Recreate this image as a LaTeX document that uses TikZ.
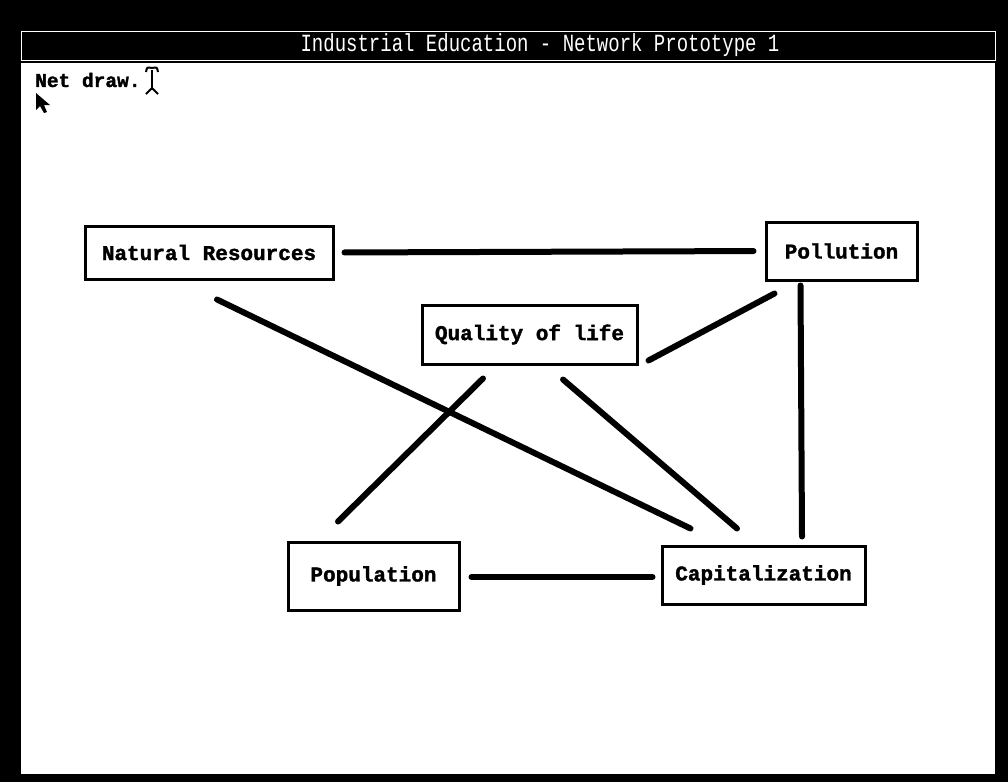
\documentclass[tikz,border=0pt]{standalone}
\usepackage{fontspec}
\newfontfamily\monofont{Liberation Mono}
\newfontfamily\heavyfont[FakeBold=1.6]{Liberation Mono Bold}
\usetikzlibrary{calc}
\begin{document}
\begin{tikzpicture}[x=1pt,y=-1pt,
 box/.style={draw=black,line width=3pt,fill=white,inner sep=0pt,font=\heavyfont\fontsize{21}{21}\selectfont},
 conn/.style={line width=6pt,line cap=round}]
\useasboundingbox (0,0) rectangle (1008,782);
\fill[black] (0,0) rectangle (1008,782);
\fill[white] (21,63) rectangle (995,774);
\draw[white,line width=1pt] (21,31) rectangle (995,60);
\node[text=white,font=\monofont\fontsize{19}{19}\selectfont] (title) at (540,45) {\scalebox{1}[1.3]{Industrial Education - Network Prototype 1}};
\node[anchor=west,inner sep=0pt,font=\heavyfont\fontsize{19.5}{20}\selectfont] (net) at (35,80) {Net draw.};
% cursors
\draw[line width=2.2pt] (152,70) -- (152,90);
\draw[line width=2pt] (146,72) .. controls (147,67) .. (152,68) .. controls (157,67) .. (158,72);
\draw[line width=2pt] (146,94) -- (152,88) -- (158,94);
\fill[black] (36,93) -- (36,110) -- (40,106) -- (44,113) -- (47,112) -- (44,105) -- (50,105) -- cycle;
% boxes
\node[box,minimum width=248pt,minimum height=53pt] (nr) at (209,252.5) {Natural Resources};
\node[box,minimum width=151pt,minimum height=58pt] (pol) at (841.5,251) {Pollution};
\node[box,minimum width=215pt,minimum height=59pt] (qual) at (529.5,334.5) {Quality of life};
\node[box,minimum width=171pt,minimum height=68pt] (pop) at (373.5,576) {Population};
\node[box,minimum width=203pt,minimum height=58pt] (cap) at (763.5,575) {Capitalization};
% connectors
\draw[conn] (nr.east) -- (pol.west) [shorten <=10pt, shorten >=11pt];
\draw[conn] ($(nr.south)+(8,19)$) -- ($(cap.north west)+(30,-16)$);
\draw[conn] ($(pol.south west)+(10,12)$) -- ($(qual.south east)+(10,-5)$);
\draw[conn] ($(pol.south)+(-41,4)$) -- ($(cap.north)+(38.5,-8)$);
\draw[conn] ($(qual.south)+(-46.5,13)$) -- ($(pop.north)+(-35.5,-19)$);
\draw[conn] ($(qual.south)+(33.5,14)$) -- ($(cap.north)+(-26.5,-16)$);
\draw[conn] ($(pop.east)+(11,1)$) -- ($(cap.west)+(-8,2)$);
\end{tikzpicture}
\end{document}
